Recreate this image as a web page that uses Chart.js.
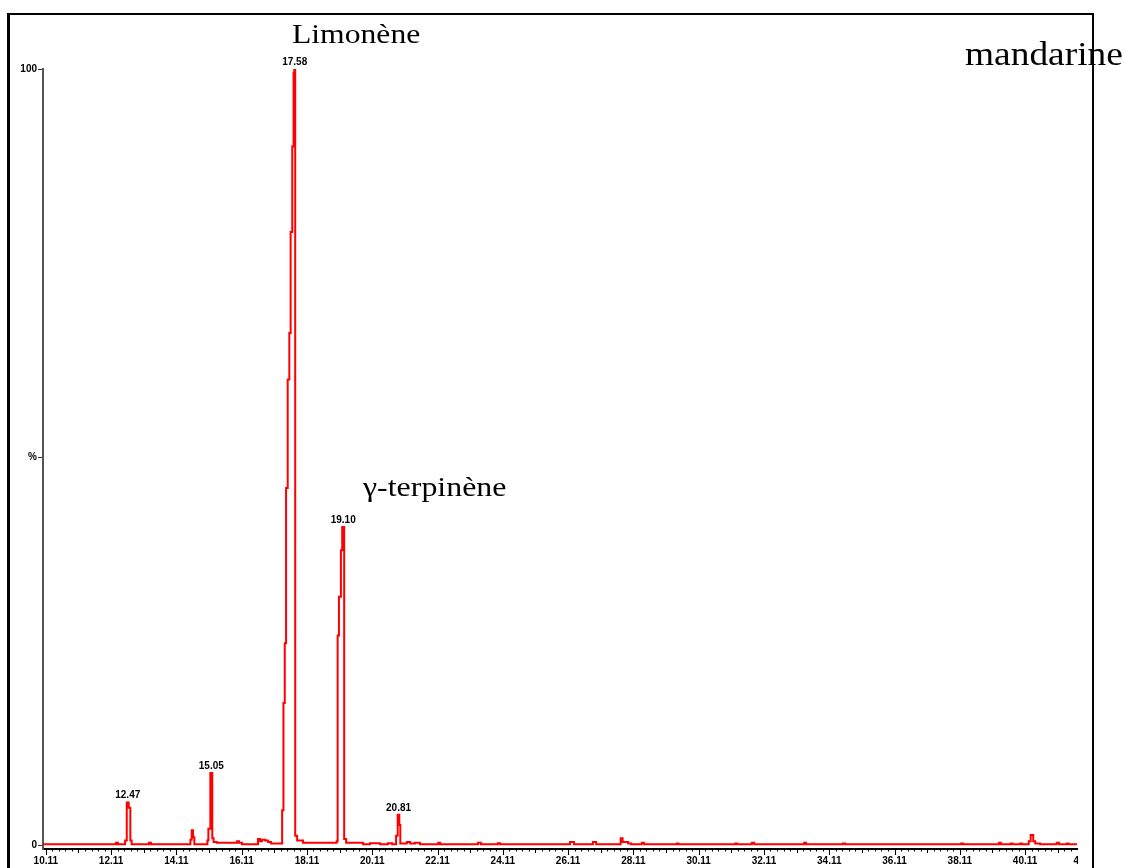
<!DOCTYPE html>
<html>
<head>
<meta charset="utf-8">
<script src="https://cdn.jsdelivr.net/npm/chart.js@4"></script>
<style>
  html, body { margin: 0; padding: 0; background: #fff; }
  #wrap { position: relative; width: 1125px; height: 868px; overflow: hidden; }
  #chart { position: absolute; left: 0; top: 0; z-index: 1; }
  .frame { position: absolute; left: 7px; top: 13px; width: 1082px; height: 900px;
           border-left: 3px solid #000; border-top: 2px solid #000; border-right: 2px solid #000; z-index: 3; }
  .note { position: absolute; font-family: "Liberation Serif", "Times New Roman", serif; color: #000;
          line-height: 1; white-space: nowrap; transform-origin: 0 0; z-index: 2; }
</style>
</head>
<body>
<div id="wrap">
  <canvas id="chart" width="1125" height="868"></canvas>
  <div class="note" style="left:292px; top:20px; font-size:28px; transform:scaleX(1.13)">Limonène</div>
  <div class="note" style="left:363px; top:473px; font-size:28px; transform:scaleX(1.14)">γ-terpinène</div>
  <div class="note" style="left:965px; top:37px; font-size:34px; transform:scaleX(1.1)">mandarine</div>
  <div class="frame"></div>
</div>

<script>
// chromatogramme mandarine — temps de rétention (min) / intensité (%)
const retentionTimes = [
  10.03, 12.26, 12.32, 12.54, 12.59, 12.65, 12.70, 12.74, 13.27, 13.33,
  14.54, 14.58, 14.62, 14.66, 15.06, 15.09, 15.15, 15.21, 15.25, 15.35,
  15.97, 16.03, 16.12, 16.61, 16.67, 16.73, 16.83, 16.92, 17.01,
  17.35, 17.39, 17.43, 17.47, 17.52, 17.57, 17.61, 17.66, 17.70, 17.72,
  17.75, 17.81, 17.99,
  19.02, 19.05, 19.09, 19.15, 19.19, 19.25, 19.31, 19.83,
  20.04, 20.35, 20.59, 20.72, 20.84, 20.89, 20.94, 20.97,
  21.17, 21.27, 21.42, 21.57, 22.13, 22.19, 23.35, 23.44, 23.96, 24.03,
  26.17, 26.29, 26.87, 26.97, 27.72, 27.78, 27.95, 28.04, 28.37, 28.44,
  29.44, 29.49, 31.23, 31.29, 31.74, 31.81, 33.34, 33.40, 34.53, 34.60,
  38.15, 38.21, 39.31, 39.37, 39.67, 39.73, 39.96, 40.02,
  40.22, 40.28, 40.36, 40.42, 40.57, 41.08, 41.15, 41.39, 41.44, 41.70
];
const intensities = [
  0.1, 0.3, 0.1, 0.6, 5.5, 4.8, 0.6, 0.1, 0.3, 0.1,
  0.7, 1.9, 1.0, 0.1, 0.6, 2.1, 9.3, 0.9, 0.4, 0.3,
  0.5, 0.3, 0.1, 0.8, 0.5, 0.7, 0.6, 0.4, 0.2,
  4.5, 18.3, 26, 46, 60, 66, 79, 90, 99.5, 100,
  1.2, 0.6, 0.3,
  0.5, 27, 32, 38, 41, 0.8, 0.3, 0.1,
  0.25, 0.1, 0.25, 0.1, 1.2, 3.9, 2.6, 0.2,
  0.4, 0.2, 0.3, 0.1, 0.3, 0.1, 0.3, 0.1, 0.25, 0.1,
  0.4, 0.1, 0.4, 0.1, 0.9, 0.4, 0.2, 0.1, 0.3, 0.1,
  0.2, 0.1, 0.2, 0.1, 0.3, 0.1, 0.3, 0.1, 0.2, 0.1,
  0.2, 0.1, 0.3, 0.1, 0.2, 0.1, 0.2, 0.1,
  0.5, 1.3, 0.5, 0.2, 0.1, 0.3, 0.1, 0.2, 0.1, 0.1
];

const peakLabels   = ['12.47', '15.05', '17.58', '19.10', '20.81'];
const xMajorLabels = ['10.11', '12.11', '14.11', '16.11', '18.11', '20.11', '22.11', '24.11',
                      '26.11', '28.11', '30.11', '32.11', '34.11', '36.11', '38.11', '40.11', '42.11'];
const yTickValues  = [0, 50, 100];
const yTickLabels  = ['0', '%', '100'];

const xMin = 10.024, xMax = 41.70;
const tickFont = { family: 'Liberation Sans', size: 10, weight: 'bold' };

// graduations : une toutes les 0.2 min à partir de chaque label majeur
const xTickValues = [];
xMajorLabels.forEach(lbl => {
  const m = parseFloat(lbl);
  for (let j = 0; j < 10; j++) {
    const v = +(m + j * 0.2).toFixed(2);
    if (v >= xMin && v <= xMax) xTickValues.push(v);
  }
});

const axisDecor = {
  id: 'axisDecor',
  afterDraw(chart) {
    const { ctx, scales: { x, y } } = chart;
    const axisY = x.top;
    ctx.save();

    // ticks de l'axe x (long / moyen / court)
    ctx.strokeStyle = '#000';
    ctx.lineWidth = 1;
    xTickValues.forEach(v => {
      const k = Math.round((v - 10.11) / 0.2);
      const len = k % 10 === 0 ? 6 : (k % 5 === 0 ? 4 : 2.5);
      const px = Math.round(x.getPixelForValue(v)) + 0.5;
      ctx.beginPath();
      ctx.moveTo(px, axisY);
      ctx.lineTo(px, axisY + len);
      ctx.stroke();
    });

    ctx.font = `bold ${tickFont.size}px ${tickFont.family}`;
    ctx.fillStyle = '#000';

    // dernier label coupé par le bord du tracé
    ctx.save();
    ctx.beginPath();
    ctx.rect(0, 0, x.right + 1, chart.height);
    ctx.clip();
    ctx.textAlign = 'left';
    ctx.textBaseline = 'middle';
    const last = xMajorLabels[xMajorLabels.length - 1];
    ctx.fillText(last, x.getPixelForValue(parseFloat(last)) - 17, axisY + 12);
    ctx.restore();

    // étiquettes des pics
    ctx.textAlign = 'center';
    ctx.textBaseline = 'alphabetic';
    peakLabels.forEach(lbl => {
      const target = parseFloat(lbl);
      let best = -1;
      retentionTimes.forEach((t, i) => {
        if (Math.abs(t - target) < 0.2 && (best < 0 || intensities[i] > intensities[best])) best = i;
      });
      if (best < 0) return;
      const x0 = x.getPixelForValue(retentionTimes[best]);
      const x1 = x.getPixelForValue(retentionTimes[best + 1]);
      const py = y.getPixelForValue(intensities[best]);
      ctx.fillText(lbl, (x0 + x1) / 2, py - 4);
    });

    ctx.restore();
  }
};

new Chart(document.getElementById('chart'), {
  type: 'line',
  data: {
    datasets: [{
      data: retentionTimes.map((t, i) => ({ x: t, y: intensities[i] })),
      borderColor: '#ff0000',
      borderWidth: 2,
      pointRadius: 0,
      stepped: true,
      fill: false,
    }]
  },
  options: {
    responsive: false,
    animation: false,
    layout: { padding: { left: 0, right: 48, top: 69, bottom: 0 } },
    plugins: { legend: { display: false }, tooltip: { enabled: false } },
    scales: {
      x: {
        type: 'linear', min: xMin, max: xMax,
        afterBuildTicks: s => { s.ticks = xTickValues.map(v => ({ value: v })); },
        afterFit: s => { s.height = 19; },
        border: { color: '#000', width: 2 },
        grid: { drawOnChartArea: false, drawTicks: false },
        ticks: {
          autoSkip: false, maxRotation: 0, padding: 6, color: '#000', font: tickFont,
          callback: v => {
            const lbl = xMajorLabels.find(l => Math.abs(parseFloat(l) - v) < 1e-6);
            return lbl || '';
          }
        }
      },
      y: {
        min: -0.5, max: 100,
        afterBuildTicks: s => { s.ticks = yTickValues.map(v => ({ value: v })); },
        afterFit: s => { s.width = 43; },
        border: { color: '#555', width: 2 },
        grid: { drawOnChartArea: false, tickLength: 5, tickColor: '#333', tickWidth: 1 },
        ticks: {
          padding: 1, color: '#000', font: tickFont,
          callback: v => yTickLabels[yTickValues.indexOf(v)]
        }
      }
    }
  },
  plugins: [axisDecor]
});
</script>
</body>
</html>
